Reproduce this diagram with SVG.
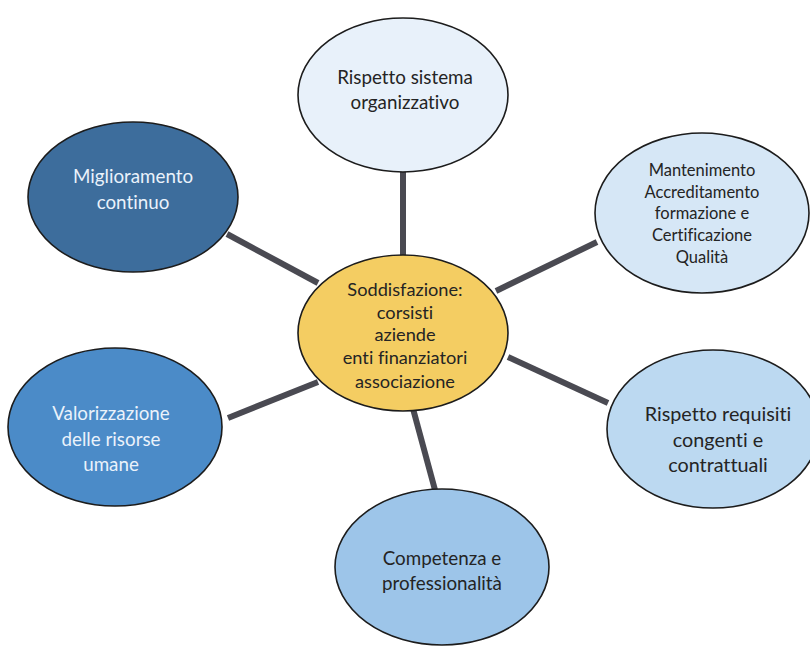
<svg xmlns="http://www.w3.org/2000/svg" width="810" height="649" viewBox="0 0 810 649">
<style>
.bg{fill:#ffffff}
.conn line{stroke:#4a4a52;stroke-width:6;stroke-linecap:butt}
.node ellipse{stroke:#1c1c1c;stroke-width:1.6}
.t{font-family:Lato,"Open Sans","Liberation Sans",sans-serif;font-size:18.8px;text-anchor:middle;dominant-baseline:central;font-variant-ligatures:none}
.dark{fill:#242424}
.light{fill:#eaf2fb}
.small{font-size:16.5px}
.mid{font-size:18.2px}
</style>
<rect class="bg" x="0" y="0" width="810" height="649"/>
<g id="connectors" class="conn">
<line x1="403" y1="170" x2="403" y2="258"/>
<line x1="227" y1="234" x2="318" y2="283"/>
<line x1="228" y1="418" x2="318" y2="382"/>
<line x1="496" y1="291" x2="597" y2="242"/>
<line x1="508" y1="357" x2="608" y2="403"/>
<line x1="412" y1="405" x2="435" y2="490"/>
</g>
<g id="n-top" class="node">
<ellipse cx="403" cy="95" rx="105" ry="77" fill="#e8f1fa"/>
<text class="t dark" x="405" y="76">Rispetto sistema</text>
<text class="t dark" x="405" y="101">organizzativo</text>
</g>
<g id="n-miglioramento" class="node">
<ellipse cx="133" cy="197" rx="105" ry="75" fill="#3d6d9c"/>
<text class="t light" x="133" y="175">Miglioramento</text>
<text class="t light" x="133" y="201">continuo</text>
</g>
<g id="n-mantenimento" class="node">
<ellipse cx="702" cy="213" rx="107" ry="80" fill="#d6e7f6"/>
<text class="t dark small" x="702" y="170">Mantenimento</text>
<text class="t dark small" x="702" y="192">Accreditamento</text>
<text class="t dark small" x="702" y="213">formazione e</text>
<text class="t dark small" x="702" y="235">Certificazione</text>
<text class="t dark small" x="702" y="257">Qualità</text>
</g>
<g id="n-center" class="node">
<ellipse cx="403" cy="333" rx="105" ry="78" fill="#f4cd62"/>
<text class="t dark mid" x="405" y="289">Soddisfazione:</text>
<text class="t dark mid" x="405" y="312">corsisti</text>
<text class="t dark mid" x="405" y="334">aziende</text>
<text class="t dark mid" x="405" y="357">enti finanziatori</text>
<text class="t dark mid" x="405" y="381">associazione</text>
</g>
<g id="n-valorizzazione" class="node">
<ellipse cx="115" cy="427" rx="107" ry="79" fill="#4b8bc8"/>
<text class="t light" x="111" y="412">Valorizzazione</text>
<text class="t light" x="111" y="438">delle risorse</text>
<text class="t light" x="111" y="463">umane</text>
</g>
<g id="n-requisiti" class="node">
<ellipse cx="713" cy="429" rx="106" ry="79" fill="#bcd9f1"/>
<text class="t dark" x="718" y="413" style="font-size:19.8px">Rispetto requisiti</text>
<text class="t dark" x="718" y="439" style="font-size:19.8px">congenti e</text>
<text class="t dark" x="718" y="464" style="font-size:19.8px">contrattuali</text>
</g>
<g id="n-competenza" class="node">
<ellipse cx="442" cy="567" rx="107" ry="78" fill="#9dc5e9"/>
<text class="t dark" x="442" y="557">Competenza e</text>
<text class="t dark" x="442" y="582">professionalità</text>
</g>
</svg>
